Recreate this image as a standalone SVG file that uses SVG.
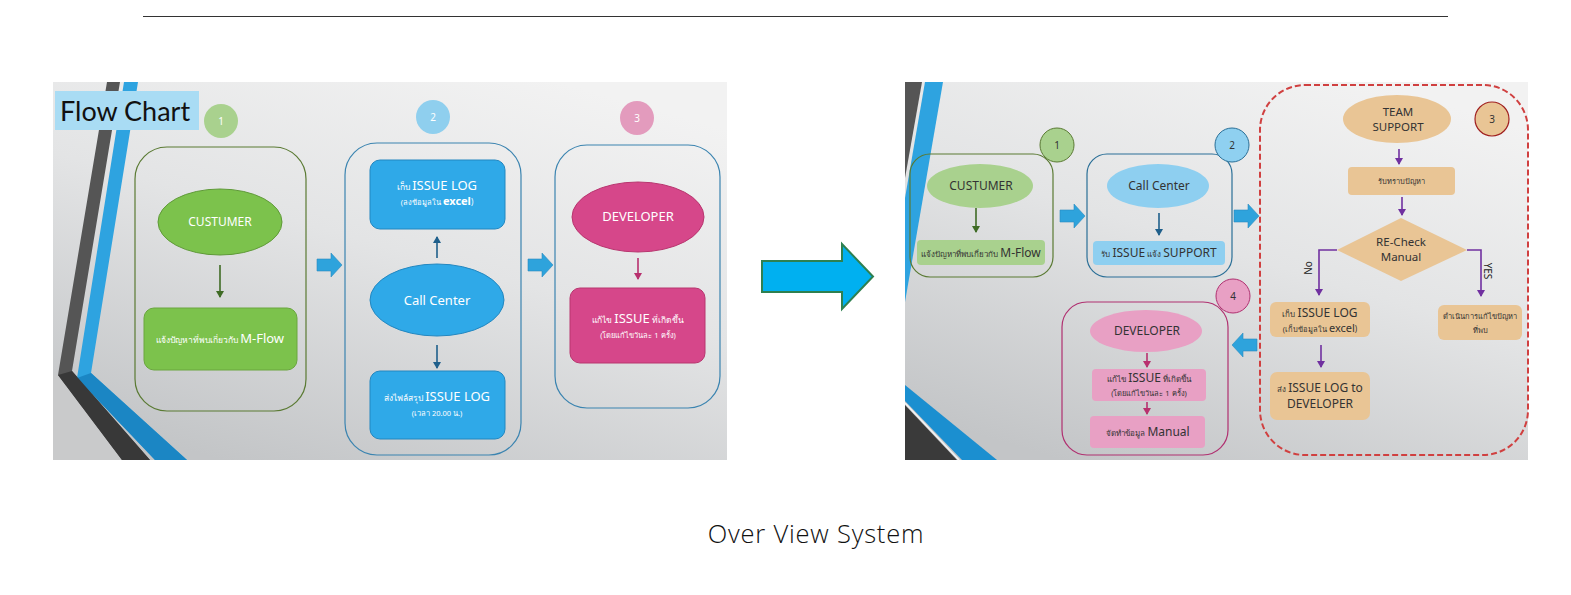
<svg xmlns="http://www.w3.org/2000/svg" width="1571" height="595" viewBox="0 0 1571 595">
<defs>
<style>
.t{font-family:"Noto Sans","DejaVu Sans",sans-serif;text-anchor:middle}
.w{fill:#ffffff}
.d{fill:#333333}
.sm{font-size:8.5px}
.md{font-size:12.5px}
.ln{fill:none;stroke-width:1.6}
.num{font-family:"Noto Sans","DejaVu Sans",sans-serif;font-size:10px;text-anchor:middle}
</style>
<linearGradient id="bg" x1="0.75" y1="0" x2="0.25" y2="1">
<stop offset="0" stop-color="#f2f2f2"/>
<stop offset="0.45" stop-color="#e3e4e5"/>
<stop offset="1" stop-color="#c3c5c7"/>
</linearGradient>
<path id="barrow" d="M0,6 H14 V0 L25,12 L14,24 V18 H0 Z" fill="#2ea3dc" stroke="#2a8cc0" stroke-width="0.6"/>
<marker id="mg" markerWidth="8" markerHeight="8" refX="6" refY="4" orient="auto" markerUnits="userSpaceOnUse"><path d="M0,0 L7,4 L0,8 Z" fill="#3f6b25"/></marker>
<marker id="mb" markerWidth="8" markerHeight="8" refX="6" refY="4" orient="auto" markerUnits="userSpaceOnUse"><path d="M0,0 L7,4 L0,8 Z" fill="#1f5f8b"/></marker>
<marker id="mp" markerWidth="8" markerHeight="8" refX="6" refY="4" orient="auto" markerUnits="userSpaceOnUse"><path d="M0,0 L7,4 L0,8 Z" fill="#b8306e"/></marker>
<marker id="mv" markerWidth="8" markerHeight="8" refX="6" refY="4" orient="auto" markerUnits="userSpaceOnUse"><path d="M0,0 L7,4 L0,8 Z" fill="#7030a0"/></marker>
</defs>
<rect width="1571" height="595" fill="#ffffff"/>
<line x1="143" y1="16.5" x2="1448" y2="16.5" stroke="#333333" stroke-width="1.2"/>

<!-- LEFT SLIDE -->
<g id="slide-left">
<rect x="53" y="82" width="674" height="378" fill="url(#bg)"/>
<polygon points="53,375 58,375 122,460 53,460" fill="#c9cacb"/>
<polygon points="107,82 120,82 72,371 150,460 122,460 58,375" fill="#555555"/>
<polygon points="124,82 138,82 91,373 187,460 155,460 77,378" fill="#2ea3e0"/>
<polygon points="77,378 91,373 187,460 155,460" fill="#1b86c4"/>
<polygon points="58,375 72,371 150,460 122,460" fill="#383838"/>
<rect x="55" y="91" width="144" height="39" fill="#a9dcf4"/>
<text x="60" y="121" font-family="Lato,'Open Sans',sans-serif" font-size="27" fill="#111111">Flow Chart</text>
</g>

<g id="l-n1">
<circle cx="221" cy="121" r="17" fill="#a9d18e"/>
<text class="num w" x="221" y="125">1</text>
<rect x="135" y="147" width="171" height="264" rx="32" fill="none" stroke="#5a7a33" stroke-width="1.2"/>
<ellipse cx="220" cy="222" rx="62" ry="33" fill="#7cc24c" stroke="#5f9a38" stroke-width="1"/>
<text class="t w" x="220" y="226" font-size="12">CUSTUMER</text>
<rect x="144" y="308" width="153" height="62" rx="10" fill="#7cc24c" stroke="#6aa63f" stroke-width="1"/>
<text class="t w" x="220" y="343"><tspan class="sm">แจ้งปัญหาที่พบเกี่ยวกับ </tspan><tspan font-size="13">M-Flow</tspan></text>
</g>

<g id="l-n2">
<circle cx="433" cy="117" r="17" fill="#8fcfee"/>
<text class="num w" x="433" y="121">2</text>
<rect x="345" y="143" width="176" height="312" rx="32" fill="none" stroke="#3b84b0" stroke-width="1.2"/>
<rect x="370" y="160" width="135" height="69" rx="10" fill="#2fa9e8" stroke="#2387c0" stroke-width="1"/>
<text class="t w" x="437" y="190"><tspan class="sm">เก็บ </tspan><tspan font-size="13">ISSUE LOG</tspan></text>
<text class="t w" x="437" y="205"><tspan font-size="7.5">(ลงข้อมูลใน </tspan><tspan font-size="11" font-weight="bold">excel</tspan><tspan font-size="8">)</tspan></text>
<ellipse cx="437" cy="300" rx="67" ry="36" fill="#2fa9e8" stroke="#2387c0" stroke-width="1"/>
<text class="t w" x="437" y="305" font-size="13">Call Center</text>
<rect x="370" y="371" width="135" height="68" rx="10" fill="#2fa9e8" stroke="#2387c0" stroke-width="1"/>
<text class="t w" x="437" y="401"><tspan class="sm">ส่งไฟล์สรุป </tspan><tspan font-size="13">ISSUE LOG</tspan></text>
<text class="t w" x="437" y="416" font-size="7.5">(เวลา 20.00 น.)</text>
</g>

<g id="l-n3">
<circle cx="637" cy="118" r="17" fill="#e39bbd"/>
<text class="num w" x="637" y="122">3</text>
<rect x="555" y="145" width="165" height="263" rx="32" fill="none" stroke="#3b84b0" stroke-width="1.2"/>
<ellipse cx="638" cy="217" rx="66" ry="35" fill="#d6478a" stroke="#b8366f" stroke-width="1"/>
<text class="t w" x="638" y="221" font-size="13">DEVELOPER</text>
<rect x="570" y="288" width="135" height="75" rx="10" fill="#d6478a" stroke="#b8366f" stroke-width="1"/>
<text class="t w" x="638" y="323"><tspan class="sm">แก้ไข </tspan><tspan font-size="13">ISSUE</tspan><tspan class="sm"> ที่เกิดขึ้น</tspan></text>
<text class="t w" x="638" y="338" font-size="7.5">(โดยแก้ไขวันละ 1 ครั้ง)</text>
</g>

<!-- BIG ARROW -->
<g id="big-arrow">
<path d="M762,261 H842 V244 L873,276.5 L842,309 V292 H762 Z" fill="#00b0f0" stroke="#2e8050" stroke-width="2"/>
</g>

<!-- RIGHT SLIDE -->
<g id="slide-right">
<rect x="905" y="82" width="623" height="378" fill="url(#bg)"/>
<polygon points="905,82 922,82 905,178" fill="#555555"/>
<polygon points="925,82 943,82 905,302 905,198" fill="#2ea3e0"/>
<polygon points="905,385 997,460 962,460 905,401" fill="#1b8fd0"/>
<polygon points="905,405 957,460 905,460" fill="#3a3a3a"/>
<line x1="905" y1="403" x2="959" y2="460" stroke="#f4f4f4" stroke-width="1.5"/>
</g>

<g id="r-n1">
<rect x="910" y="154" width="143" height="123" rx="20" fill="none" stroke="#5a7a33" stroke-width="1.2"/>
<circle cx="1057" cy="145" r="17" fill="#a9d18e" stroke="#5a7a33" stroke-width="1"/>
<text class="num d" x="1057" y="149">1</text>
<ellipse cx="980" cy="186" rx="53" ry="22" fill="#a9d18e"/>
<text class="t d" x="981" y="190" font-size="12">CUSTUMER</text>
<rect x="917" y="240" width="128" height="25" rx="4" fill="#a9d18e"/>
<text class="t d" x="981" y="257"><tspan font-size="8">แจ้งปัญหาที่พบเกี่ยวกับ </tspan><tspan font-size="12">M-Flow</tspan></text>
</g>

<g id="r-n2">
<rect x="1087" y="154" width="145" height="123" rx="20" fill="none" stroke="#2a6f97" stroke-width="1.2"/>
<circle cx="1232" cy="145" r="17" fill="#8fd0f0" stroke="#2a6f97" stroke-width="1"/>
<text class="num d" x="1232" y="149">2</text>
<ellipse cx="1158" cy="186" rx="51" ry="22" fill="#8ecff0"/>
<text class="t d" x="1159" y="190" font-size="12">Call Center</text>
<rect x="1093" y="241" width="132" height="24" rx="4" fill="#8ecff0"/>
<text class="t d" x="1159" y="257"><tspan font-size="8">รับ </tspan><tspan font-size="12">ISSUE</tspan><tspan font-size="8"> แจ้ง </tspan><tspan font-size="12">SUPPORT</tspan></text>
</g>

<g id="r-n3">
<rect x="1260" y="85" width="268" height="370" rx="45" fill="none" stroke="#d04040" stroke-width="2" stroke-dasharray="6,3"/>
<circle cx="1492" cy="119" r="17" fill="#e9c595" stroke="#a02020" stroke-width="1.2"/>
<text class="num d" x="1492" y="123">3</text>
<ellipse cx="1397" cy="119" rx="54" ry="24" fill="#e9c595"/>
<text class="t d" x="1398" y="116" font-size="11.5">TEAM</text>
<text class="t d" x="1398" y="131" font-size="11.5">SUPPORT</text>
<rect x="1348" y="167" width="107" height="28" rx="4" fill="#e9c595"/>
<text class="t d" x="1401" y="184" font-size="7.5">รับทราบปัญหา</text>
<polygon points="1401,218 1467,250 1401,281 1337,250" fill="#e9c595"/>
<text class="t d" x="1401" y="246" font-size="11.5">RE-Check</text>
<text class="t d" x="1401" y="261" font-size="11.5">Manual</text>
<text class="t" x="0" y="0" font-size="10" fill="#222222" transform="translate(1312,268) rotate(-90)">No</text>
<text class="t" x="0" y="0" font-size="10" fill="#222222" transform="translate(1484,271) rotate(90)">YES</text>
<rect x="1270" y="302" width="100" height="35" rx="6" fill="#e9c595"/>
<text class="t d" x="1320" y="317"><tspan font-size="8">เก็บ </tspan><tspan font-size="12">ISSUE LOG</tspan></text>
<text class="t d" x="1320" y="332"><tspan font-size="7.5">(เก็บข้อมูลใน </tspan><tspan font-size="11">excel</tspan><tspan font-size="8">)</tspan></text>
<rect x="1270" y="372" width="100" height="48" rx="7" fill="#e9c595"/>
<text class="t d" x="1320" y="392"><tspan font-size="8">ส่ง </tspan><tspan font-size="12">ISSUE LOG to</tspan></text>
<text class="t d" x="1320" y="408" font-size="12">DEVELOPER</text>
<rect x="1438" y="305" width="84" height="35" rx="6" fill="#e9c595"/>
<text class="t d" x="1480" y="319" font-size="7.5">ดำเนินการแก้ไขปัญหา</text>
<text class="t d" x="1480" y="333" font-size="7.5">ที่พบ</text>
</g>

<g id="r-n4">
<rect x="1062" y="302" width="166" height="153" rx="25" fill="none" stroke="#b03070" stroke-width="1.2"/>
<circle cx="1233" cy="296" r="17" fill="#e8a0c4" stroke="#b03070" stroke-width="1"/>
<text class="num d" x="1233" y="300">4</text>
<ellipse cx="1146" cy="331" rx="56" ry="21" fill="#e8a0c4"/>
<text class="t d" x="1147" y="335" font-size="12">DEVELOPER</text>
<rect x="1092" y="369" width="114" height="32" rx="4" fill="#e8a0c4"/>
<text class="t d" x="1149" y="382"><tspan font-size="8">แก้ไข </tspan><tspan font-size="12">ISSUE</tspan><tspan font-size="8"> ที่เกิดขึ้น</tspan></text>
<text class="t d" x="1149" y="396" font-size="7.5">(โดยแก้ไขวันละ 1 ครั้ง)</text>
<rect x="1090" y="416" width="115" height="32" rx="4" fill="#e8a0c4"/>
<text class="t d" x="1148" y="436"><tspan font-size="8">จัดทำข้อมูล </tspan><tspan font-size="12">Manual</tspan></text>
</g>

<g id="connectors">
<use href="#barrow" x="317" y="253"/>
<use href="#barrow" x="528" y="253"/>
<use href="#barrow" x="1060" y="204"/>
<use href="#barrow" x="1234" y="204"/>
<use href="#barrow" transform="translate(1257,333) scale(-1,1)"/>
<line class="ln" x1="220" y1="265" x2="220" y2="297" stroke="#3f6b25" marker-end="url(#mg)"/>
<line class="ln" x1="437" y1="258" x2="437" y2="237" stroke="#1f5f8b" marker-end="url(#mb)"/>
<line class="ln" x1="437" y1="345" x2="437" y2="368" stroke="#1f5f8b" marker-end="url(#mb)"/>
<line class="ln" x1="638" y1="258" x2="638" y2="279" stroke="#b8306e" marker-end="url(#mp)"/>
<line class="ln" x1="976" y1="208" x2="976" y2="232" stroke="#3f6b25" marker-end="url(#mg)"/>
<line class="ln" x1="1159" y1="213" x2="1159" y2="235" stroke="#1f5f8b" marker-end="url(#mb)"/>
<line class="ln" x1="1399" y1="149" x2="1399" y2="164" stroke="#7030a0" marker-end="url(#mv)"/>
<line class="ln" x1="1402" y1="197" x2="1402" y2="215" stroke="#7030a0" marker-end="url(#mv)"/>
<polyline class="ln" points="1337,250 1319,250 1319,295" stroke="#7030a0" marker-end="url(#mv)"/>
<polyline class="ln" points="1467,250 1481,250 1481,296" stroke="#7030a0" marker-end="url(#mv)"/>
<line class="ln" x1="1321" y1="345" x2="1321" y2="367" stroke="#7030a0" marker-end="url(#mv)"/>
<line class="ln" x1="1147" y1="353" x2="1147" y2="367" stroke="#b8306e" marker-end="url(#mp)"/>
<line class="ln" x1="1147" y1="402" x2="1147" y2="414" stroke="#b8306e" marker-end="url(#mp)"/>
</g>

<text x="816" y="543" font-family="'Open Sans','Noto Sans',sans-serif" font-weight="300" font-size="25.5" letter-spacing="0.8" fill="#111111" text-anchor="middle">Over View System</text>
</svg>
